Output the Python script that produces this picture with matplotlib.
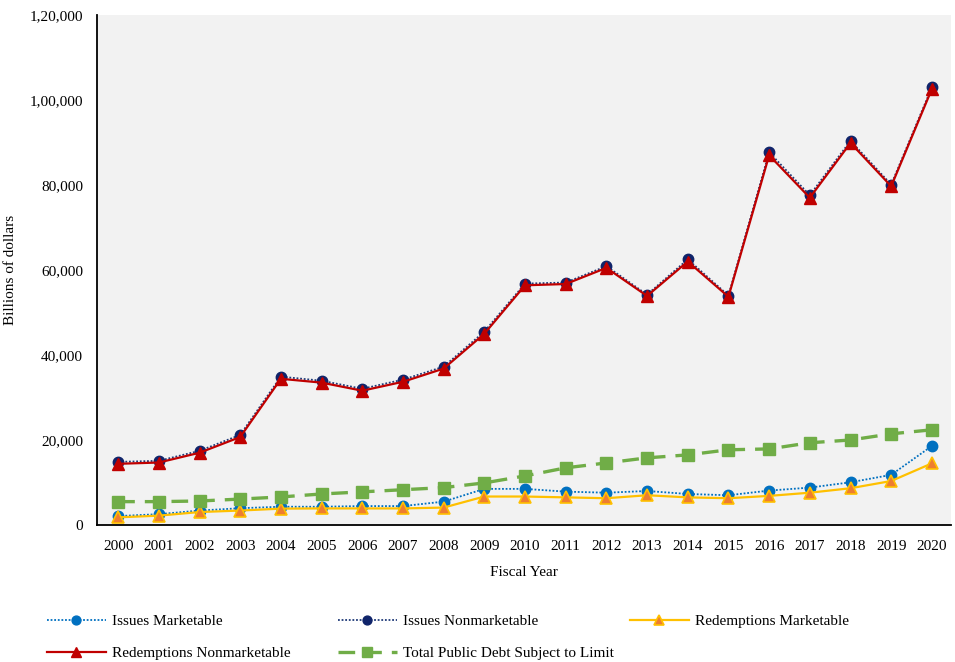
import matplotlib
matplotlib.use("Agg")
import matplotlib.pyplot as plt

years = list(range(2000, 2021))
issues_marketable = [2100, 2550, 3400, 3950, 4300, 4300, 4450, 4450, 5500, 8500, 8500,
                     7850, 7600, 8000, 7300, 7000, 8100, 8800, 10050, 11800, 18600]
issues_nonmarketable = [14850, 15100, 17450, 21200, 34900, 33950, 32050, 34200, 37250, 45500, 56800,
                        57050, 60900, 54200, 62500, 54000, 87700, 77600, 90400, 80100, 103000]
redemptions_marketable = [1800, 2200, 3050, 3400, 3850, 3900, 3900, 3900, 4100, 6700, 6700,
                          6500, 6300, 7000, 6500, 6300, 6850, 7600, 8650, 10350, 14500]
redemptions_nonmarketable = [14400, 14700, 17000, 20700, 34400, 33500, 31600, 33700, 36800, 45000, 56400,
                             56700, 60500, 53900, 62000, 53700, 87000, 77000, 89900, 79700, 102600]
total_debt_limit = [5500, 5500, 5650, 6100, 6600, 7300, 7800, 8300, 8800, 9900, 11550,
                    13450, 14600, 15800, 16500, 17700, 17900, 19350, 20000, 21450, 22400]
ytick_values = [0, 20000, 40000, 60000, 80000, 100000, 120000]
ytick_labels = ["0", "20,000", "40,000", "60,000", "80,000", "1,00,000", "1,20,000"]

plt.rcParams['font.family'] = ['Liberation Serif', 'DejaVu Serif']
plt.rcParams['font.size'] = 11

fig = plt.figure(figsize=(9.55, 6.62), dpi=100)
ax = fig.add_axes([97/955, 1 - 525/662, (951-97)/955, (525-15)/662])
ax.set_facecolor('#f2f2f2')

h1, = ax.plot(years, issues_marketable, color='#0070C0', linestyle=(0, (1, 1)), linewidth=1.3,
              marker='o', markersize=7.5, markerfacecolor='#0070C0', markeredgecolor='#0070C0',
              label='Issues Marketable')
h2, = ax.plot(years, issues_nonmarketable, color='#1F3A78', linestyle=(0, (1, 1)), linewidth=1.3,
              marker='o', markersize=7.5, markerfacecolor='#10246A', markeredgecolor='#10246A',
              label='Issues Nonmarketable')
h3, = ax.plot(years, redemptions_marketable, color='#FFC000', linestyle='-', linewidth=1.6,
              marker='^', markersize=8, markerfacecolor='#ED7D31', markeredgecolor='#FFC000',
              markeredgewidth=1.2, label='Redemptions Marketable')
h4, = ax.plot(years, redemptions_nonmarketable, color='#C00000', linestyle='-', linewidth=1.6,
              marker='^', markersize=8, markerfacecolor='#C00000', markeredgecolor='#C00000',
              label='Redemptions Nonmarketable')
h5, = ax.plot(years, total_debt_limit, color='#70AD47', linestyle=(0, (5, 3)), linewidth=2.4,
              marker='s', markersize=9, markerfacecolor='#70AD47', markeredgecolor='#70AD47',
              label='Total Public Debt Subject to Limit')

ax.set_xlim(1999.48, 2020.47)
ax.set_ylim(0, 120000)
ax.set_xticks(years)
ax.set_xticklabels([str(y) for y in years])
ax.set_yticks(ytick_values)
ax.set_yticklabels(ytick_labels)
ax.tick_params(axis='both', length=0, labelsize=11)
ax.tick_params(axis='x', pad=11)
ax.tick_params(axis='y', pad=10)
for s in ['top', 'right']:
    ax.spines[s].set_visible(False)
for s in ['left', 'bottom']:
    ax.spines[s].set_color('#000000')
    ax.spines[s].set_linewidth(1.3)

ax.set_xlabel('Fiscal Year', fontsize=11, labelpad=9)
ax.set_ylabel('Billions of dollars', fontsize=11, labelpad=9)

entries = [(h1, 47, 621), (h2, 338, 621), (h3, 630, 621), (h4, 47, 653), (h5, 338, 653)]
for h, px, py in entries:
    fig.legend([h], [h.get_label()], loc='center left',
               bbox_to_anchor=(px/955, 1 - py/662), frameon=False,
               borderpad=0, borderaxespad=0, handlelength=3.85, handletextpad=0.4,
               markerscale=0.85, fontsize=11)

fig.savefig('out.png', dpi=100)
